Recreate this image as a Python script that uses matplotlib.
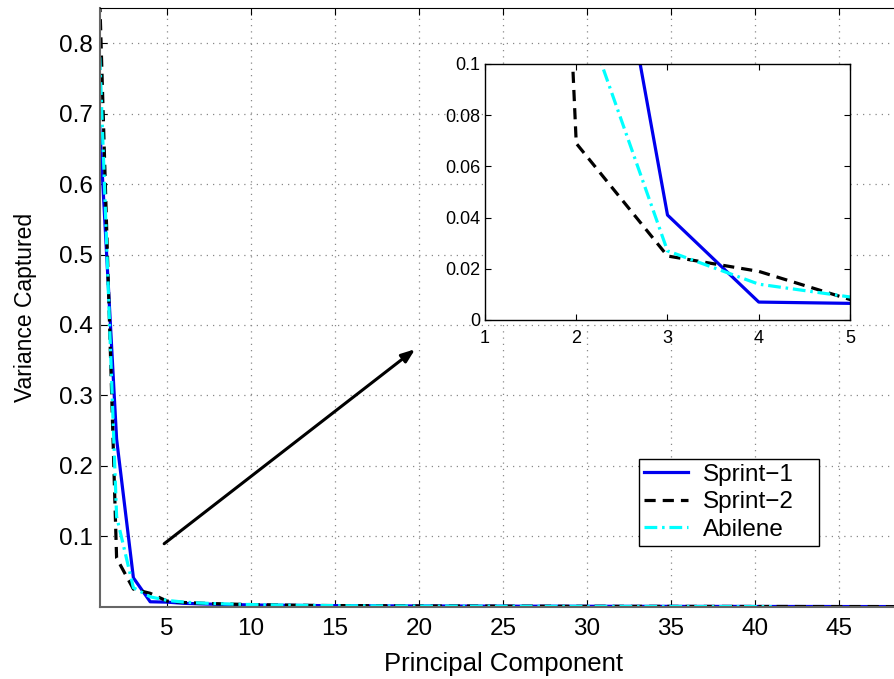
import matplotlib.pyplot as plt

plt.rcParams['font.family'] = ['Liberation Sans', 'DejaVu Sans']

# Fraction of variance captured by each principal component
sprint1 = [0.680, 0.238, 0.041, 0.007, 0.0065, 0.0048, 0.0040, 0.0034, 0.0029, 0.0025,
           0.0022, 0.0020, 0.0018, 0.0016, 0.0015, 0.0014, 0.0013, 0.0012, 0.0011, 0.0010,
           0.0010, 0.0009, 0.0009, 0.0008, 0.0008, 0.0007, 0.0007, 0.0007, 0.0006, 0.0006,
           0.0006, 0.0005, 0.0005, 0.0005, 0.0005, 0.0004, 0.0004, 0.0004, 0.0004, 0.0003,
           0.0003, 0.0003, 0.0003, 0.0003, 0.0002, 0.0002, 0.0002, 0.0002, 0.0001]
sprint2 = [0.860, 0.069, 0.025, 0.019, 0.008, 0.0060, 0.0050, 0.0042, 0.0036, 0.0030,
           0.0026, 0.0023, 0.0020, 0.0018, 0.0016, 0.0015, 0.0014, 0.0013, 0.0012, 0.0011,
           0.0010, 0.0010, 0.0009, 0.0009, 0.0008, 0.0008, 0.0007, 0.0007, 0.0006, 0.0006,
           0.0006, 0.0005, 0.0005, 0.0005, 0.0004, 0.0004, 0.0004, 0.0004, 0.0003, 0.0003,
           0.0003, 0.0003, 0.0002, 0.0002, 0.0002, 0.0002, 0.0002, 0.0001, 0.0001]
abilene = [0.780, 0.128, 0.027, 0.014, 0.009, 0.0065, 0.0052, 0.0043, 0.0036, 0.0030,
           0.0026, 0.0022, 0.0019, 0.0017, 0.0015, 0.0013, 0.0012, 0.0011, 0.0010, 0.0009,
           0.0008, 0.0008, 0.0007, 0.0007, 0.0006, 0.0006, 0.0005, 0.0005, 0.0005, 0.0004,
           0.0004, 0.0004, 0.0003, 0.0003, 0.0003, 0.0003, 0.0002, 0.0002, 0.0002, 0.0002,
           0.0001]
labels = ['Sprint\u22121', 'Sprint\u22122', 'Abilene']

pc_sprint = list(range(1, len(sprint1) + 1))
pc_abilene = list(range(1, len(abilene) + 1))

fig = plt.figure(figsize=(8.94, 6.79), dpi=100)
ax = fig.add_axes([99.8 / 894, 72.3 / 679, 806.4 / 894, 598.7 / 679])

styles = [dict(color='#0000ee', ls='-'),
          dict(color='black', ls=(0, (3.5, 2.2))),
          dict(color='cyan', ls=(0, (4, 1.5, 0.8, 1.5)))]


def draw(a):
    a.plot(pc_sprint, sprint1, lw=2.3, label=labels[0], **styles[0])
    a.plot(pc_sprint, sprint2, lw=2.3, label=labels[1], **styles[1])
    a.plot(pc_abilene, abilene, lw=2.3, label=labels[2], **styles[2])


draw(ax)
ax.set_xlim(1, 49)
ax.set_ylim(0, 0.85)
ax.set_xticks(range(5, 50, 5))
ax.set_yticks([0.1, 0.2, 0.3, 0.4, 0.5, 0.6, 0.7, 0.8])
ax.set_yticklabels(['0.1', '0.2', '0.3', '0.4', '0.5', '0.6', '0.7', '0.8'])
ax.tick_params(direction='in', top=True, right=True, labelsize=17.5, length=5)
ax.tick_params(axis='x', pad=8)
ax.tick_params(axis='y', pad=5)
ax.grid(True, ls=(0, (1, 4)), color='#888888', lw=0.9)
for side in ['left', 'bottom']:
    ax.spines[side].set_color('#666666')
    ax.spines[side].set_linewidth(1.5)
ax.set_xlabel('Principal Component', fontsize=18.5, labelpad=9)
ax.set_ylabel('Variance Captured', fontsize=16.5, labelpad=16)

ax.annotate('', xy=(19.9, 0.368), xytext=(4.7, 0.087),
            arrowprops=dict(arrowstyle='-|>,head_length=0.8,head_width=0.3',
                            color='black', lw=2.2))

leg = ax.legend(loc='upper left', bbox_to_anchor=(0.669, 0.1, 0.2232, 0.147),
                mode='expand', fontsize=17.5, fancybox=False, edgecolor='black',
                framealpha=1, handlelength=1.8, borderpad=0.2, labelspacing=0.23,
                handletextpad=0.6, borderaxespad=0)
leg.get_frame().set_linewidth(1.0)

# zoomed inset of the first five components
ins = fig.add_axes([485 / 894, 359 / 679, 365 / 894, 256 / 679])
draw(ins)
ins.set_xlim(1, 5)
ins.set_ylim(0, 0.1)
ins.set_xticks([1, 2, 3, 4, 5])
ins.set_yticks([0, 0.02, 0.04, 0.06, 0.08, 0.1])
ins.set_yticklabels(['0', '0.02', '0.04', '0.06', '0.08', '0.1'])
ins.tick_params(direction='in', top=True, right=True, labelsize=13, length=4)
ins.tick_params(axis='x', pad=7)
ins.tick_params(axis='y', pad=3.5)
for s in ins.spines.values():
    s.set_linewidth(1.0)

fig.savefig('out.png', dpi=100)
